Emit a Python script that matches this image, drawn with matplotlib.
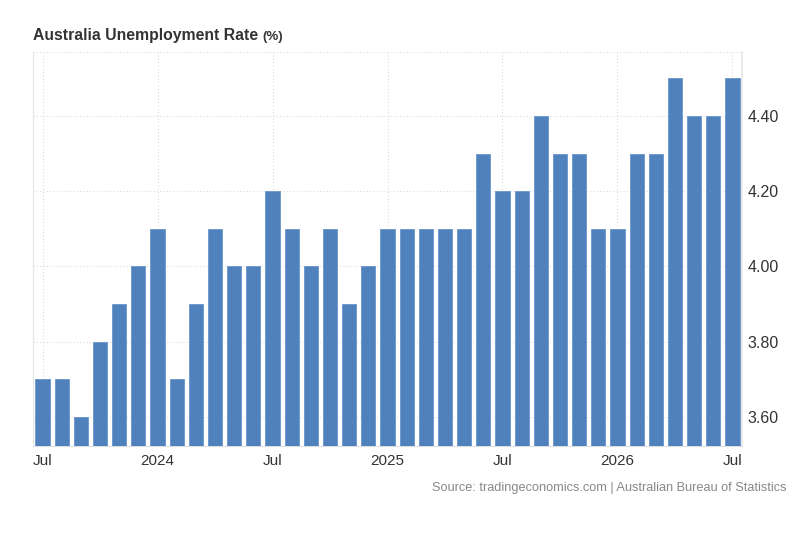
import matplotlib
matplotlib.use("Agg")
import matplotlib.pyplot as plt
import numpy as np

plt.rcParams['font.family'] = ['Liberation Sans', 'DejaVu Sans']

values = [3.7, 3.7, 3.6, 3.8, 3.9, 4.0, 4.1, 3.7, 3.9, 4.1, 4.0, 4.0, 4.2,
          4.1, 4.0, 4.1, 3.9, 4.0, 4.1, 4.1, 4.1, 4.1, 4.1, 4.3, 4.2, 4.2,
          4.4, 4.3, 4.3, 4.1, 4.1, 4.3, 4.3, 4.5, 4.4, 4.4, 4.5]
xtick_idx = [0, 6, 12, 18, 24, 30, 36]
xtick_labels = ['Jul', '2024', 'Jul', '2025', 'Jul', '2026', 'Jul']
yticks = [3.6, 3.8, 4.0, 4.2, 4.4]

fig = plt.figure(figsize=(8, 5.46), dpi=100)
ax = fig.add_axes([0.04125, 0.1832, 0.8863, 0.7216])
x = np.arange(len(values))
ax.bar(x, values, width=0.74, color='#4F81BD', edgecolor='#6a95cb', linewidth=0.6, zorder=3)
ax.set_xlim(-0.5, len(values) - 0.5)
ax.set_ylim(3.523, 4.57)

ax.yaxis.tick_right()
ax.set_yticks(yticks)
ax.set_yticklabels([f'{v:.2f}' for v in yticks])
ax.set_xticks(xtick_idx)
ax.set_xticklabels(xtick_labels)
ax.tick_params(axis='both', length=0, colors='#333333')
ax.tick_params(axis='y', pad=4, labelsize=11.5)
ax.tick_params(axis='x', pad=6, labelsize=11)

ax.grid(True, color='#dddddd', linestyle=(0, (1, 2)), linewidth=0.8, zorder=0)
ax.spines['top'].set_visible(False)
ax.axhline(4.57, color='#dddddd', linestyle=(0, (1, 2)), linewidth=0.8, zorder=0)
ax.spines['left'].set_color('#e6e6e6')
ax.spines['right'].set_color('#e6e6e6')
ax.spines['bottom'].set_color('#dddddd')
ax.spines['right'].set_linewidth(1.2)

fig.text(0.04125, 0.935, 'Australia Unemployment Rate', fontsize=11.3, fontweight='bold',
         color='#333333', ha='left', va='center')
fig.text(0.328, 0.933, '(%)', fontsize=9.5, fontweight='bold', color='#333333',
         ha='left', va='center')
fig.text(0.983, 0.106, 'Source: tradingeconomics.com | Australian Bureau of Statistics',
         fontsize=9.2, color='#888888', ha='right', va='center')

fig.savefig('out.png', dpi=100)
